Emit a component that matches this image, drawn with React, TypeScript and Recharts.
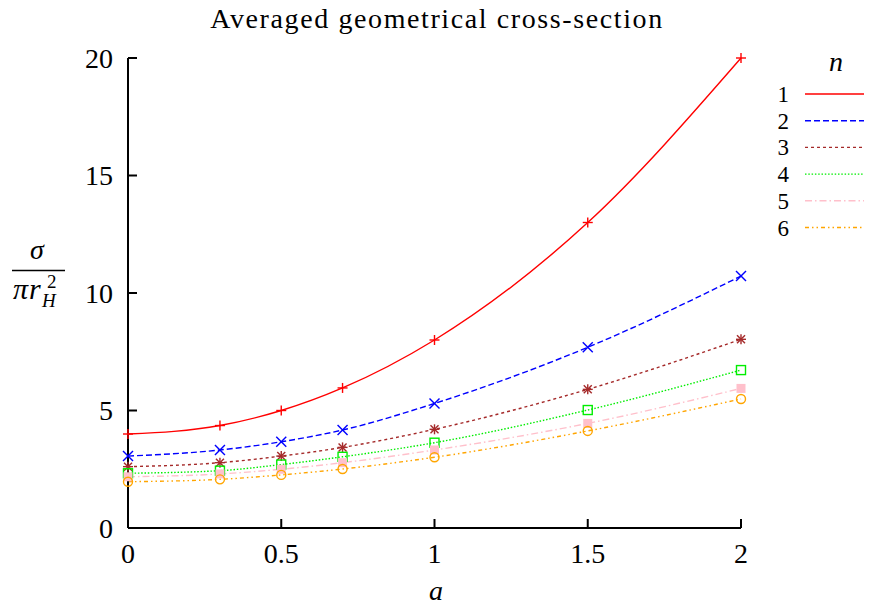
import React from 'react';
import { LineChart, Line, XAxis, YAxis, Customized } from 'recharts';

const aValues = [0, 0.3, 0.5, 0.7, 1, 1.5, 2];
const n1 = [4, 4.36, 5, 5.96, 8, 13, 20];
const n2 = [3.06, 3.32, 3.67, 4.17, 5.3, 7.69, 10.72];
const n3 = [2.61, 2.78, 3.06, 3.43, 4.2, 5.9, 8.03];
const n4 = [2.33, 2.44, 2.7, 3.03, 3.63, 5.02, 6.72];
const n5 = [2.18, 2.3, 2.5, 2.78, 3.32, 4.45, 5.94];
const n6 = [1.97, 2.07, 2.26, 2.51, 3.01, 4.13, 5.49];
const xTicks = [0, 0.5, 1, 1.5, 2];
const yTicks = [0, 5, 10, 15, 20];
const seriesNames = ['1', '2', '3', '4', '5', '6'];
const title = 'Averaged geometrical cross-section';

const seriesValues = [n1, n2, n3, n4, n5, n6];
const data = aValues.map((a, i) => {
  const row: any = { a };
  seriesValues.forEach((s, k) => {
    row['n' + (k + 1)] = s[i];
  });
  return row;
});

const FONT = '"Liberation Serif", "DejaVu Serif", serif';

const styles = [
  { color: '#ff0000', dash: undefined, marker: 'plus' },
  { color: '#0000ff', dash: '6 3', marker: 'cross' },
  { color: '#a52a2a', dash: '3 3', marker: 'star' },
  { color: '#00ee00', dash: '1.5 1.8', marker: 'square' },
  { color: '#ffc0cb', dash: '7 3 1.5 3', marker: 'fsquare' },
  { color: '#ffa500', dash: '4 3 1.5 3 1.5 3', marker: 'circle' },
];

const makeDot = (marker: string, color: string) => (props: any) => {
  const { cx, cy, index } = props;
  if (cx == null || cy == null) return <g key={index} />;
  const s = 5;
  const sw = 1.4;
  if (marker === 'plus') {
    return (
      <g key={index} stroke={color} strokeWidth={sw}>
        <line x1={cx - s} y1={cy} x2={cx + s} y2={cy} />
        <line x1={cx} y1={cy - s} x2={cx} y2={cy + s} />
      </g>
    );
  }
  if (marker === 'cross') {
    return (
      <g key={index} stroke={color} strokeWidth={sw}>
        <line x1={cx - s} y1={cy - s} x2={cx + s} y2={cy + s} />
        <line x1={cx - s} y1={cy + s} x2={cx + s} y2={cy - s} />
      </g>
    );
  }
  if (marker === 'star') {
    return (
      <g key={index} stroke={color} strokeWidth={sw}>
        <line x1={cx - s} y1={cy} x2={cx + s} y2={cy} />
        <line x1={cx} y1={cy - s} x2={cx} y2={cy + s} />
        <line x1={cx - 4} y1={cy - 4} x2={cx + 4} y2={cy + 4} />
        <line x1={cx - 4} y1={cy + 4} x2={cx + 4} y2={cy - 4} />
      </g>
    );
  }
  if (marker === 'square') {
    return <rect key={index} x={cx - 4.5} y={cy - 4.5} width={9} height={9} fill="none" stroke={color} strokeWidth={sw} />;
  }
  if (marker === 'fsquare') {
    return <rect key={index} x={cx - 4.5} y={cy - 4.5} width={9} height={9} fill={color} stroke="none" />;
  }
  return <circle key={index} cx={cx} cy={cy} r={4.5} fill="none" stroke={color} strokeWidth={sw} />;
};

const LegendBox = () => (
  <g transform="translate(760, 40)" fontFamily={FONT}>
    <text x={76} y={31} textAnchor="middle" fontStyle="italic" fontSize={28}>n</text>
    {seriesNames.map((name, i) => {
      const y = 54 + i * 26.7;
      const st = styles[i];
      return (
        <g key={name}>
          <text x={29} y={y + 8} textAnchor="end" fontSize={23}>{name}</text>
          <line x1={45} y1={y} x2={112} y2={y} stroke={st.color} strokeWidth={1.4} strokeDasharray={st.dash} />
        </g>
      );
    })}
  </g>
);

const Texts = () => (
  <g fontFamily={FONT} fill="#000">
    <text x={437} y={28} textAnchor="middle" fontSize={28} letterSpacing={1.6}>{title}</text>
    <text x={436} y={600} textAnchor="middle" fontSize={28} fontStyle="italic">a</text>
    <text x={37} y={259} textAnchor="middle" fontSize={28} fontStyle="italic">σ</text>
    <line x1={12} y1={270.5} x2={65} y2={270.5} stroke="#000" strokeWidth={1.5} />
    <text x={13} y={299} fontSize={30} fontStyle="italic" letterSpacing={1}>πr</text>
    <text x={47} y={288} fontSize={19}>2</text>
    <text x={42} y={307} fontSize={19} fontStyle="italic">H</text>
  </g>
);

export default function App() {
  return (
    <div style={{ position: 'relative', width: 872, height: 610 }}>
      <LineChart
        width={872}
        height={610}
        data={data}
        margin={{ top: 58, right: 131, bottom: 42, left: 68 }}
        style={{ position: 'absolute', left: -8, top: -8 }}
      >
        <XAxis
          dataKey="a"
          type="number"
          domain={[0, 2]}
          ticks={xTicks}
          height={40}
          tickSize={-9}
          tickMargin={24}
          axisLine={{ stroke: '#000', strokeWidth: 2 }}
          tickLine={{ stroke: '#000', strokeWidth: 2 }}
          tick={{ fill: '#000', fontSize: 28, fontFamily: FONT }}
          interval={0}
        />
        <XAxis
          xAxisId="top"
          orientation="top"
          dataKey="a"
          type="number"
          domain={[0, 2]}
          ticks={xTicks}
          height={0}
          tickSize={-9}
          tick={false}
          axisLine={{ stroke: '#000', strokeWidth: 2 }}
          tickLine={{ stroke: '#000', strokeWidth: 2 }}
        />
        <YAxis
          type="number"
          domain={[0, 20]}
          ticks={yTicks}
          width={60}
          tickSize={-9}
          tickMargin={24}
          axisLine={{ stroke: '#000', strokeWidth: 2 }}
          tickLine={{ stroke: '#000', strokeWidth: 2 }}
          tick={{ fill: '#000', fontSize: 28, fontFamily: FONT }}
          interval={0}
        />
        <YAxis
          yAxisId="right"
          orientation="right"
          type="number"
          domain={[0, 20]}
          ticks={yTicks}
          width={0}
          tickSize={-9}
          tick={false}
          axisLine={{ stroke: '#000', strokeWidth: 2 }}
          tickLine={{ stroke: '#000', strokeWidth: 2 }}
        />
        {seriesNames.map((name, i) => (
          <Line
            key={name}
            name={name}
            dataKey={'n' + (i + 1)}
            type="monotone"
            stroke={styles[i].color}
            strokeWidth={1.4}
            strokeDasharray={styles[i].dash}
            dot={makeDot(styles[i].marker, styles[i].color)}
            activeDot={false}
            isAnimationActive={false}
          />
        ))}
        <Customized component={LegendBox} />
        <Customized component={Texts} />
      </LineChart>
    </div>
  );
}
